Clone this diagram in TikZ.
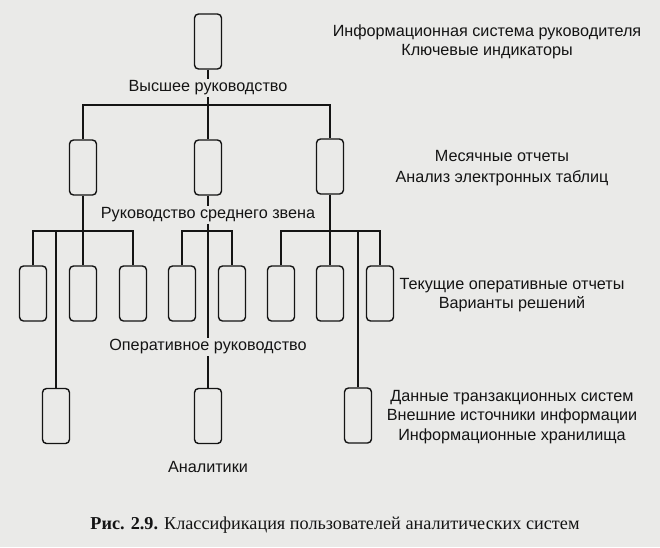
\documentclass[tikz,border=0pt]{standalone}
\usepackage{fontspec}
\setmainfont{Liberation Sans}
\newfontfamily\capfont{Liberation Serif}
\definecolor{paper}{RGB}{234,234,232}
\definecolor{ink}{RGB}{20,20,20}
\begin{document}
\begin{tikzpicture}[x=1pt,y=-1pt,
  box/.style={draw=ink,line width=1.4pt,rounded corners=4pt,minimum width=27pt,minimum height=55pt,inner sep=0pt},
  lbl/.style={font=\fontsize{16.2}{19.5}\selectfont,text=ink,inner sep=1.5pt,align=center},
  side/.style={font=\fontsize{16.2}{19.5}\selectfont,text=ink,inner sep=0pt,align=center},
  conn/.style={draw=ink,line width=1.1pt}]
\fill[paper] (0,0) rectangle (660,547);
\useasboundingbox (0,0) rectangle (660,547);
% boxes
\node[box] (top) at (208,41.5) {};
\node[box] (l2a) at (83,167.5) {};
\node[box] (l2b) at (208,167.5) {};
\node[box] (l2c) at (330,166.5) {};
\node[box] (l3a) at (33,293.5) {};
\node[box] (l3b) at (83,293.5) {};
\node[box] (l3c) at (133,293.5) {};
\node[box] (l3d) at (182,293.5) {};
\node[box] (l3e) at (232,293.5) {};
\node[box] (l3f) at (281,293.5) {};
\node[box] (l3g) at (330,293.5) {};
\node[box] (l3h) at (380,293.5) {};
\node[box] (l4a) at (56,416) {};
\node[box] (l4b) at (208,416) {};
\node[box] (l4c) at (358,415.5) {};
% level labels
\node[lbl] (hi) at (208,88) {Высшее руководство};
\node[lbl] (mid) at (208,215) {Руководство среднего звена};
\node[lbl] (op) at (208,347) {Оперативное руководство};
\node[lbl] (an) at (208,467) {Аналитики};
% side labels
\node[side] (s1) at (487,42) {Информационная система руководителя\\Ключевые индикаторы};
\node[side,font=\fontsize{16.2}{21}\selectfont] (s2) at (502,168) {Месячные отчеты\\Анализ электронных таблиц};
\node[side] (s3) at (512,295) {Текущие оперативные отчеты\\Варианты решений};
\node[side] (s4) at (512,417) {Данные транзакционных систем\\Внешние источники информации\\Информационные хранилища};
% caption
\node[font=\capfont\fontsize{18.2}{21}\selectfont,text=ink,inner sep=0pt] (cap) at (335,525) {\textbf{Рис. 2.9.} Классификация пользователей аналитических систем};
% bar points
\coordinate (b0) at (208,105);
\coordinate (bl) at (83,231);
\coordinate (bm) at (208,231);
\coordinate (br) at (330,231);
% connectors
\draw[conn] (top) -- (hi);
\draw[conn] (hi) -- (b0);
\draw[conn] (l2a.north) |- (b0) -| (l2c.north);
\draw[conn] (b0) -- (l2b);
\draw[conn] (l2a) -- (l3b);
\draw[conn] (l3a.north) |- (bl) -| (l3c.north);
\draw[conn] (l4a.north) -- (l4a.north |- bl);
\draw[conn] (l2b) -- (mid);
\draw[conn] (mid) -- (op);
\draw[conn] (l3d.north) |- (bm) -| (l3e.north);
\draw[conn] (op) -- (l4b);
\draw[conn] (l2c) -- (l3g);
\draw[conn] (l3f.north) |- (br) -| (l3h.north);
\draw[conn] (l4c.north) -- (l4c.north |- br);
\end{tikzpicture}
\end{document}
